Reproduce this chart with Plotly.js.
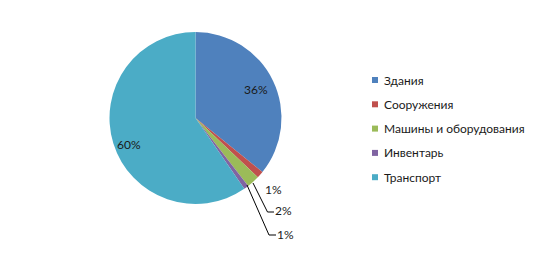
<!DOCTYPE html>
<html>
<head>
<meta charset="utf-8">
<script src="https://cdn.plot.ly/plotly-3.0.1.min.js"></script>
<style>html,body{margin:0;padding:0;background:#fff;}#chart{width:547px;height:255px;}</style>
</head>
<body>
<div id="chart"></div>
<script>
const categories = ["Здания", "Сооружения", "Машины и оборудования", "Инвентарь", "Транспорт"];
const shares = [35.8, 1.3, 2.4, 0.9, 59.6];
const colors = ["#4F81BD", "#C0504D", "#9BBB59", "#8064A2", "#4BACC6"];

const W = 547, H = 255;
const px = x => x / W;
const py = y => 1 - y / H;
const total = shares.reduce((a, b) => a + b, 0);
const pct = shares.map(v => Math.round(v / total * 100) + "%");

const FONT = "Lato, 'Open Sans', sans-serif";
const TXT = "#1a1a1a";

// label placements (pixels) for each slice
const labelPos = [[256, 89], [273, 189], [283, 210], [285.5, 234], [129, 144]];

const annotations = categories.map((c, i) => ({
  xref: "paper", yref: "paper", x: px(labelPos[i][0]), y: py(labelPos[i][1]),
  xanchor: "center", yanchor: "middle", showarrow: false,
  text: pct[i], font: {family: FONT, size: 12, color: TXT}
}));

// custom legend
const legTop = 80, legStep = 24.3;
const shapes = [];
categories.forEach((c, i) => {
  const y = legTop + i * legStep;
  shapes.push({type: "rect", xref: "paper", yref: "paper",
    x0: px(372), x1: px(378), y0: py(y - 3), y1: py(y + 3),
    fillcolor: colors[i], line: {width: 0}});
  annotations.push({xref: "paper", yref: "paper", x: px(382), y: py(y),
    xanchor: "left", yanchor: "middle", showarrow: false,
    text: c, font: {family: FONT, size: 12, color: TXT}});
});

// leader lines
function path(pts) {
  return "M " + pts.map(p => px(p[0]) + "," + py(p[1])).join(" L ");
}
shapes.push({type: "path", xref: "paper", yref: "paper",
  path: path([[253, 183], [267.5, 212], [274, 212]]), line: {color: "#000", width: 1}});
shapes.push({type: "path", xref: "paper", yref: "paper",
  path: path([[247, 185], [269, 235], [276, 235]]), line: {color: "#000", width: 1}});

const data = [{
  type: "pie",
  labels: categories,
  values: shares,
  sort: false,
  direction: "clockwise",
  rotation: 0,
  marker: {colors: colors, line: {width: 0}},
  textinfo: "none",
  hoverinfo: "label+percent",
  showlegend: false,
  domain: {x: [px(109.5), px(281.5)], y: [py(204), py(32)]}
}];

const layout = {
  width: W, height: H,
  margin: {l: 0, r: 0, t: 0, b: 0},
  paper_bgcolor: "#fff",
  showlegend: false,
  annotations: annotations,
  shapes: shapes
};

Plotly.newPlot("chart", data, layout, {staticPlot: true, displayModeBar: false});
</script>
</body>
</html>
